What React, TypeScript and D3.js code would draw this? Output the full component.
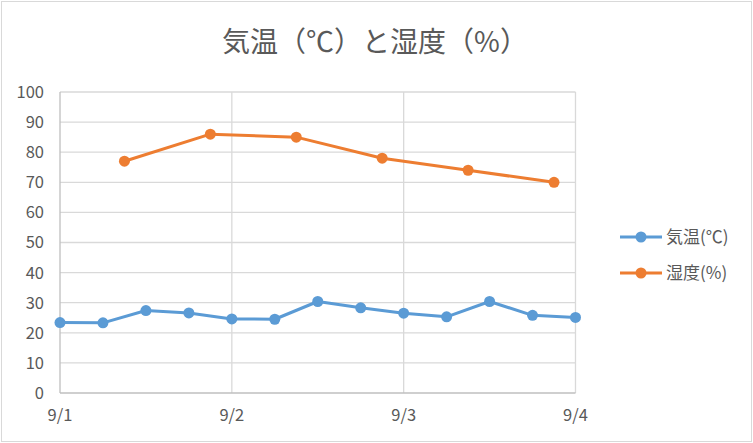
import React, { useEffect, useRef } from 'react';
import * as d3 from 'd3';

const title = '気温（℃）と湿度（%）';
const tempLabel = '気温(℃)';
const humidLabel = '湿度(%)';

const tempTimes = [
  '9/1 00:00', '9/1 06:00', '9/1 12:00', '9/1 18:00',
  '9/2 00:00', '9/2 06:00', '9/2 12:00', '9/2 18:00',
  '9/3 00:00', '9/3 06:00', '9/3 12:00', '9/3 18:00',
  '9/4 00:00',
];
const tempValues = [23.4, 23.3, 27.4, 26.6, 24.6, 24.5, 30.4, 28.3, 26.5, 25.3, 30.4, 25.8, 25.1];

const humidTimes = ['9/1 09:00', '9/1 21:00', '9/2 09:00', '9/2 21:00', '9/3 09:00', '9/3 21:00'];
const humidValues = [77, 86, 85, 78, 74, 70];

const xTickLabels = ['9/1', '9/2', '9/3', '9/4'];
const yTicks = [0, 10, 20, 30, 40, 50, 60, 70, 80, 90, 100];

const parse = d3.timeParse('%Y/%m/%d %H:%M');
const toDate = (s: string) => parse('2023/' + s)!;

const App: React.FC = () => {
  const svgRef = useRef<SVGSVGElement>(null);

  useEffect(() => {
    document.body.style.margin = '0';
    if (!svgRef.current) return;
    const svg = d3.select(svgRef.current);
    svg.selectAll('*').remove();

    const width = 753;
    const height = 443;
    const margin = { top: 92, right: 178, bottom: 50, left: 60 };
    const font = '"Noto Sans CJK JP", "Open Sans", sans-serif';
    const textColor = '#595959';

    // chart border
    svg.append('rect')
      .attr('x', 1.5).attr('y', 1.5)
      .attr('width', width - 3).attr('height', height - 3)
      .attr('fill', '#fff')
      .attr('stroke', '#d9d9d9')
      .attr('stroke-width', 1);

    const x = d3.scaleTime()
      .domain([toDate('9/1 00:00'), toDate('9/4 00:00')])
      .range([margin.left, width - margin.right + 0.5]);

    const y = d3.scaleLinear()
      .domain([0, 100])
      .range([height - margin.bottom, margin.top]);

    const xTicks = xTickLabels.map(d => toDate(d + ' 00:00'));

    // gridlines
    svg.append('g')
      .selectAll('line')
      .data(yTicks.slice(1))
      .enter()
      .append('line')
      .attr('x1', x.range()[0]).attr('x2', x.range()[1])
      .attr('y1', d => y(d)).attr('y2', d => y(d))
      .attr('stroke', '#d9d9d9')
      .attr('stroke-width', 1.3);

    svg.append('g')
      .selectAll('line')
      .data(xTicks.slice(1))
      .enter()
      .append('line')
      .attr('x1', d => x(d)).attr('x2', d => x(d))
      .attr('y1', y(0)).attr('y2', y(100))
      .attr('stroke', '#d9d9d9')
      .attr('stroke-width', 1.3);

    // axes lines
    svg.append('line')
      .attr('x1', x.range()[0]).attr('x2', x.range()[1])
      .attr('y1', y(0)).attr('y2', y(0))
      .attr('stroke', '#bfbfbf').attr('stroke-width', 1.3);
    svg.append('line')
      .attr('x1', x.range()[0]).attr('x2', x.range()[0])
      .attr('y1', y(0)).attr('y2', y(100))
      .attr('stroke', '#bfbfbf').attr('stroke-width', 1.3);

    // y labels
    svg.append('g')
      .selectAll('text')
      .data(yTicks)
      .enter()
      .append('text')
      .attr('x', 44)
      .attr('y', d => y(d))
      .attr('dy', '0.36em')
      .attr('text-anchor', 'end')
      .attr('font-family', font)
      .attr('font-size', 16.5)
      .attr('fill', textColor)
      .text(d => d);

    // x labels
    svg.append('g')
      .selectAll('text')
      .data(xTicks)
      .enter()
      .append('text')
      .attr('x', d => x(d))
      .attr('y', 421)
      .attr('text-anchor', 'middle')
      .attr('font-family', font)
      .attr('font-size', 16.5)
      .attr('fill', textColor)
      .text((_, i) => xTickLabels[i]);

    const series = [
      { times: tempTimes, values: tempValues, color: '#5b9bd5', label: tempLabel },
      { times: humidTimes, values: humidValues, color: '#ed7d31', label: humidLabel },
    ];

    const line = d3.line<[Date, number]>()
      .x(d => x(d[0]))
      .y(d => y(d[1]));

    series.forEach(s => {
      const pts: [Date, number][] = s.times.map((t, i) => [toDate(t), s.values[i]]);
      svg.append('path')
        .datum(pts)
        .attr('d', line)
        .attr('fill', 'none')
        .attr('stroke', s.color)
        .attr('stroke-width', 3)
        .attr('stroke-linejoin', 'round');
      svg.append('g')
        .selectAll('circle')
        .data(pts)
        .enter()
        .append('circle')
        .attr('cx', d => x(d[0]))
        .attr('cy', d => y(d[1]))
        .attr('r', 5.5)
        .attr('fill', s.color);
    });

    // legend
    const legend = svg.append('g');
    series.forEach((s, i) => {
      const ly = 237 + i * 36;
      legend.append('line')
        .attr('x1', 620).attr('x2', 662)
        .attr('y1', ly).attr('y2', ly)
        .attr('stroke', s.color).attr('stroke-width', 3);
      legend.append('circle')
        .attr('cx', 641).attr('cy', ly).attr('r', 5.5)
        .attr('fill', s.color);
      legend.append('text')
        .attr('x', 666).attr('y', ly)
        .attr('dy', '0.36em')
        .attr('font-family', font)
        .attr('font-size', 17)
        .attr('fill', textColor)
        .text(s.label);
    });

    // title
    svg.append('text')
      .attr('x', 375)
      .attr('y', 52)
      .attr('text-anchor', 'middle')
      .attr('font-family', font)
      .attr('font-size', 28)
      .attr('fill', textColor)
      .text(title);
  }, []);

  return <svg ref={svgRef} width={753} height={443} style={{ display: 'block' }} />;
};

export default App;
